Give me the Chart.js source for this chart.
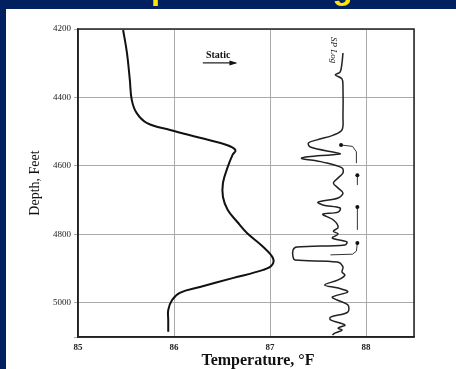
<!DOCTYPE html>
<html>
<head>
<meta charset="utf-8">
<script src="https://cdn.jsdelivr.net/npm/chart.js@4"></script>
<style>
  html, body { margin: 0; padding: 0; background: #002060; }
  canvas { display: block; }
</style>
</head>
<body>
<canvas id="myChart" width="456" height="369"></canvas>
<script>
// temperature log (depth in feet, temperature in °F)
const tempDepth = [4203, 4270, 4349, 4407, 4445, 4475, 4495, 4518, 4539, 4554, 4568, 4603, 4650, 4691,
  4729, 4764, 4796, 4837, 4869, 4890, 4904, 4928, 4954, 4971, 4992, 5021, 5050, 5085];
const tempValues = [85.47, 85.51, 85.54, 85.56, 85.61, 85.72, 85.96, 86.27, 86.55, 86.64, 86.61, 86.56, 86.51, 86.51,
  86.56, 86.66, 86.76, 86.93, 87.03, 87.02, 86.93, 86.61, 86.27, 86.06, 85.98, 85.94, 85.94, 85.94];

// SP log trace, plotted on the same axes
const spDepth = [4270, 4299, 4326, 4334, 4346, 4369, 4457, 4495, 4510, 4524,
  4533, 4545, 4562, 4565, 4577, 4589, 4606, 4621, 4635, 4650,
  4665, 4679, 4694, 4706, 4714, 4723, 4735, 4741, 4758, 4779,
  4791, 4799, 4811, 4822, 4831, 4837, 4846, 4866, 4875, 4881,
  4895, 4910, 4919, 4933, 4948, 4957, 4968, 4983, 4992, 5006,
  5027, 5042, 5050, 5065, 5074, 5080, 5088, 5094];
const spValues = [87.76, 87.75, 87.73, 87.68, 87.75, 87.76, 87.76, 87.75, 87.66, 87.49,
  87.40, 87.42, 87.70, 87.73, 87.33, 87.55, 87.75, 87.76, 87.71, 87.66,
  87.71, 87.76, 87.71, 87.50, 87.55, 87.73, 87.71, 87.55, 87.66, 87.71,
  87.66, 87.71, 87.65, 87.80, 87.78, 87.28, 87.24, 87.24, 87.26, 87.70,
  87.76, 87.75, 87.78, 87.71, 87.57, 87.71, 87.81, 87.65, 87.70, 87.81,
  87.81, 87.63, 87.63, 87.78, 87.71, 87.75, 87.68, 87.65];

// axis ranges and tick steps
const tempRange = [85, 88.5];
const depthRange = [4200, 5100];
const depthStep = 200;

// labels
const slideTitle = "Temperature Log";
const xTitle = "\u2003\u2002Temperature, °F";
const yTitle = "Depth, Feet";
const staticText = "Static";
const spText = "SP Log";

// annotation anchors in data units [temp, depth]
const staticAt = [86.46, 4277];
const staticArrow = [[86.30, 4299], [86.64, 4299]];
const spLabelAt = [87.66, 4262];
const flowArrows = [
  [[87.90, 4592], [87.90, 4559], [87.86, 4543], [87.74, 4539]],
  [[87.91, 4656], [87.91, 4627]],
  [[87.91, 4787], [87.91, 4720]],
  [[87.63, 4860], [87.86, 4858], [87.90, 4849], [87.91, 4825]]
];

const toPoints = (xs, ys) => xs.map((x, i) => ({ x: x, y: ys[i] }));

const serif = "'Liberation Serif', 'DejaVu Serif', serif";

const decor = {
  id: "decor",
  beforeDraw(chart) {
    const c = chart.ctx;
    c.save();
    c.fillStyle = "#002060";
    c.fillRect(0, 0, chart.width, chart.height);
    c.fillStyle = "#ffffff";
    c.fillRect(6, 9, chart.width - 6, chart.height - 9);
    // slide title, mostly cut off above the white panel
    c.beginPath();
    c.rect(0, 0, chart.width, 9);
    c.clip();
    c.font = "bold 33px 'Liberation Sans', Arial, sans-serif";
    c.fillStyle = "#ffe600";
    c.textBaseline = "alphabetic";
    const x0 = 161 - c.measureText("Tem").width - c.measureText("p").width / 2;
    c.fillText(slideTitle, x0, -1);
    c.restore();
  },
  afterDatasetsDraw(chart) {
    const c = chart.ctx;
    const xs = chart.scales.x, ys = chart.scales.y;
    const px = (p) => [xs.getPixelForValue(p[0]), ys.getPixelForValue(p[1])];
    const a = chart.chartArea;
    c.save();
    // box round the plot
    c.strokeStyle = "#222";
    c.lineWidth = 1.5;
    c.strokeRect(a.left, a.top, a.right - a.left, a.bottom - a.top);

    // "Static" label with underline arrow
    c.fillStyle = "#111";
    c.font = "bold 10px " + serif;
    c.textAlign = "center";
    c.textBaseline = "middle";
    const s = px(staticAt);
    c.fillText(staticText, s[0], s[1]);
    const a0 = px(staticArrow[0]), a1 = px(staticArrow[1]);
    c.lineWidth = 1.2;
    c.beginPath();
    c.moveTo(a0[0], a0[1]);
    c.lineTo(a1[0], a1[1]);
    c.stroke();
    c.beginPath();
    c.moveTo(a1[0] + 2, a1[1]);
    c.lineTo(a1[0] - 6, a1[1] - 2.5);
    c.lineTo(a1[0] - 6, a1[1] + 2.5);
    c.closePath();
    c.fill();

    // "SP Log" rotated label
    const l = px(spLabelAt);
    c.save();
    c.translate(l[0], l[1]);
    c.rotate(Math.PI / 2);
    c.font = "italic 9px " + serif;
    c.fillText(spText, 0, 0);
    c.restore();

    // small flow arrows beside the SP log
    c.lineWidth = 1;
    c.strokeStyle = "#333";
    flowArrows.forEach((arr) => {
      const pts = arr.map(px);
      c.beginPath();
      c.moveTo(pts[0][0], pts[0][1]);
      for (let i = 1; i < pts.length; i++) c.lineTo(pts[i][0], pts[i][1]);
      c.stroke();
      const end = pts[pts.length - 1];
      c.beginPath();
      c.arc(end[0], end[1], 2, 0, Math.PI * 2);
      c.fill();
    });
    c.restore();
  }
};

new Chart(document.getElementById("myChart"), {
  type: "scatter",
  data: {
    datasets: [
      {
        label: "Temperature",
        data: toPoints(tempValues, tempDepth),
        showLine: true,
        borderColor: "#111",
        borderWidth: 2,
        pointRadius: 0,
        tension: 0.4
      },
      {
        label: "SP Log",
        data: toPoints(spValues, spDepth),
        showLine: true,
        borderColor: "#222",
        borderWidth: 1.5,
        pointRadius: 0,
        tension: 0.35
      }
    ]
  },
  options: {
    responsive: false,
    animation: false,
    layout: { padding: { top: 29, right: 42, left: 0, bottom: 0 } },
    plugins: {
      legend: { display: false },
      tooltip: { enabled: false }
    },
    scales: {
      x: {
        type: "linear",
        min: tempRange[0],
        max: tempRange[1],
        afterFit: (scale) => { scale.height = 32; },
        grid: { color: "#aaa", lineWidth: 1, drawTicks: false },
        border: { display: true, color: "#222", width: 1.5 },
        ticks: {
          stepSize: 1,
          padding: 5,
          color: "#222",
          font: { family: serif, size: 9, weight: "bold" },
          callback: (v) => (Number.isInteger(v) ? `${v}` : "")
        },
        title: {
          display: true,
          text: xTitle,
          color: "#111",
          font: { family: serif, size: 16, weight: "bold", lineHeight: 1 },
          padding: 0
        }
      },
      y: {
        type: "linear",
        reverse: true,
        min: depthRange[0],
        max: depthRange[1],
        afterFit: (scale) => { scale.width = 78; },
        grid: { color: "#aaa", lineWidth: 1, tickLength: 4 },
        border: { display: true, color: "#222", width: 1.5 },
        ticks: {
          stepSize: depthStep,
          padding: 3,
          color: "#222",
          font: { family: serif, size: 9 },
          callback: (v) => (v % depthStep === 0 ? `${v}` : "")
        },
        title: {
          display: true,
          text: yTitle,
          color: "#111",
          font: { family: serif, size: 14, lineHeight: 1 },
          padding: { top: 28 }
        }
      }
    }
  },
  plugins: [decor]
});
</script>
</body>
</html>
